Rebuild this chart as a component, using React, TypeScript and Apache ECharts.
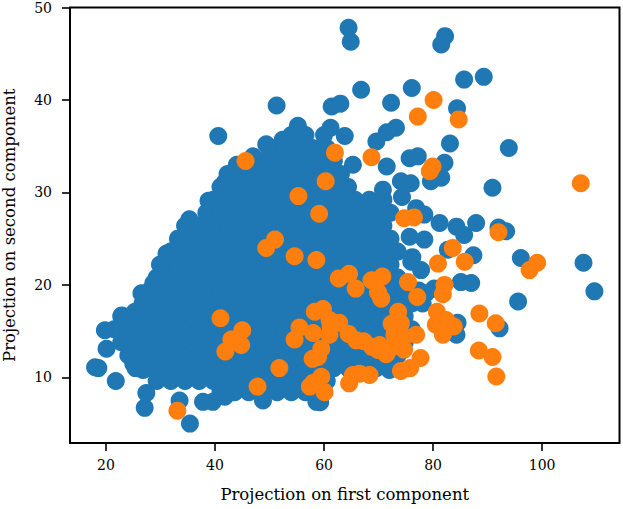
import React, { useEffect, useRef } from "react";
import * as echarts from "echarts";

// Axis ticks
const xTicks = [20, 40, 60, 80, 100];
const yTicks = [10, 20, 30, 40, 50];

// Blue: scattered / outline points [x, y]
const blueScatter: number[][] = [
  [64.5, 47.8], [64.9, 46.3], [82.2, 46.9], [81.5, 46.0], [85.7, 42.2], [89.3, 42.5],
  [66.8, 41.1], [76.1, 41.3], [72.3, 39.7], [84.4, 39.1], [61.4, 39.3], [63.0, 39.6],
  [51.3, 39.4], [40.6, 36.1], [55.2, 37.2], [83.1, 35.3], [93.9, 34.8], [61.2, 37.0],
  [60.0, 36.2], [63.8, 36.1], [69.6, 35.5], [71.5, 36.5], [73.2, 37.0], [75.7, 33.7],
  [77.2, 33.9], [71.5, 32.8], [82.1, 33.2], [81.5, 31.6], [79.6, 31.2], [75.9, 31.0],
  [90.9, 30.5], [65.3, 33.0], [70.8, 30.3], [74.3, 29.5], [76.9, 28.3], [78.4, 27.6],
  [81.2, 26.7], [84.3, 26.3], [85.7, 25.4], [87.9, 26.7], [92.0, 26.2], [93.4, 25.8],
  [78.4, 24.9], [75.7, 25.2], [96.1, 22.9], [107.6, 22.4], [109.6, 19.3], [95.6, 18.2],
  [87.4, 23.2], [85.1, 20.3], [87.0, 20.2], [82.7, 23.8], [76.0, 22.5], [77.8, 21.6],
  [80.2, 19.6], [78.7, 19.1], [78.1, 18.0], [92.2, 15.3], [84.5, 15.9], [84.3, 14.6],
  [72.0, 10.8], [59.3, 7.3], [49.4, 35.2], [52.4, 35.7], [53.9, 31.3], [44.0, 33.0],
  [47.0, 33.9], [41.8, 31.1], [38.8, 29.1], [35.3, 27.1], [32.0, 23.6],
  [18.0, 11.1], [18.6, 11.0], [21.8, 9.6], [27.1, 6.7], [27.4, 8.3], [33.5, 7.5],
  [35.4, 5.0], [37.8, 7.35], [39.6, 7.35], [41.8, 7.9], [45.8, 8.7], [48.8, 7.5],
  [51.5, 8.8], [56.1, 9.2], [58.6, 7.35], [19.8, 15.1], [20.1, 13.1], [22.9, 16.7],
  [26.5, 19.1], [28.7, 20.2], [29.9, 22.2], [31.1, 23.4], [25.3, 17.1], [25.0, 11.5],
  [26.8, 10.8], [74.1, 31.2], [76.2, 23.0],
];

// Blue: dense core of the cloud, read row by row [y, xs]
const blueCoreRows: [number, number[]][] = [
  [8.4, [41, 43.6, 46.2, 48.8, 51.4, 54, 56.6]],
  [9.6, [29.3, 31.9, 34.5, 37.1, 39.7, 42.3, 44.9, 47.5, 50.1, 52.7, 55.3, 57.9, 60.5]],
  [11.0, [25.4, 28, 30.6, 33.2, 35.8, 38.4, 41, 43.6, 46.2, 48.8, 51.4, 54, 56.6, 59.2, 61.8, 64.4, 67, 69.6, 72.2]],
  [12.4, [24.1, 26.7, 29.3, 31.9, 34.5, 37.1, 39.7, 42.3, 44.9, 47.5, 50.1, 52.7, 55.3, 57.9, 60.5, 63.1, 65.7, 68.3, 70.9, 73.5]],
  [13.8, [22.8, 25.4, 28, 30.6, 33.2, 35.8, 38.4, 41, 43.6, 46.2, 48.8, 51.4, 54, 56.6, 59.2, 61.8, 64.4, 67, 69.6, 72.2, 74.8]],
  [15.2, [21.5, 24.1, 26.7, 29.3, 31.9, 34.5, 37.1, 39.7, 42.3, 44.9, 47.5, 50.1, 52.7, 55.3, 57.9, 60.5, 63.1, 65.7, 68.3, 70.9, 73.5, 76.1]],
  [16.6, [22.8, 25.4, 28, 30.6, 33.2, 35.8, 38.4, 41, 43.6, 46.2, 48.8, 51.4, 54, 56.6, 59.2, 61.8, 64.4, 67, 69.6, 72.2, 74.8]],
  [18.0, [26.7, 29.3, 31.9, 34.5, 37.1, 39.7, 42.3, 44.9, 47.5, 50.1, 52.7, 55.3, 57.9, 60.5, 63.1, 65.7, 68.3, 70.9, 73.5, 76.1]],
  [19.4, [28, 30.6, 33.2, 35.8, 38.4, 41, 43.6, 46.2, 48.8, 51.4, 54, 56.6, 59.2, 61.8, 64.4, 67, 69.6, 72.2, 74.8, 77.4]],
  [20.8, [29.3, 31.9, 34.5, 37.1, 39.7, 42.3, 44.9, 47.5, 50.1, 52.7, 55.3, 57.9, 60.5, 63.1, 65.7, 68.3, 70.9, 73.5]],
  [22.2, [30.6, 33.2, 35.8, 38.4, 41, 43.6, 46.2, 48.8, 51.4, 54, 56.6, 59.2, 61.8, 64.4, 67, 69.6, 72.2]],
  [23.6, [31.9, 34.5, 37.1, 39.7, 42.3, 44.9, 47.5, 50.1, 52.7, 55.3, 57.9, 60.5, 63.1, 65.7, 68.3, 70.9, 73.5]],
  [25.0, [33.2, 35.8, 38.4, 41, 43.6, 46.2, 48.8, 51.4, 54, 56.6, 59.2, 61.8, 64.4, 67, 69.6, 72.2]],
  [26.4, [34.5, 37.1, 39.7, 42.3, 44.9, 47.5, 50.1, 52.7, 55.3, 57.9, 60.5, 63.1, 65.7, 68.3, 70.9]],
  [27.8, [38.4, 41, 43.6, 46.2, 48.8, 51.4, 54, 56.6, 59.2, 61.8, 64.4, 67, 69.6, 72.2]],
  [29.2, [39.7, 42.3, 44.9, 47.5, 50.1, 52.7, 55.3, 57.9, 60.5, 63.1, 65.7, 68.3, 70.9]],
  [30.6, [41, 43.6, 46.2, 48.8, 51.4, 54, 56.6, 59.2, 61.8, 64.4]],
  [32.0, [42.3, 44.9, 47.5, 50.1, 52.7, 55.3, 57.9, 60.5, 63.1]],
  [33.4, [46.2, 48.8, 51.4, 54, 56.6, 59.2, 61.8]],
  [34.8, [50.1, 52.7, 55.3, 57.9, 60.5]],
  [36.2, [54, 56.6]],
];

// Orange points [x, y]
const orangePoints: number[][] = [
  [33.1, 6.4], [41.0, 16.4], [45.0, 15.1], [43.0, 14.1], [44.8, 13.5], [41.9, 12.8],
  [47.8, 9.0], [51.8, 11.0], [45.6, 33.4], [55.3, 29.6], [59.1, 27.7], [51.0, 24.9],
  [49.4, 24.0], [54.6, 23.1], [58.6, 22.7], [62.0, 34.3], [60.3, 31.2], [68.7, 33.8],
  [77.2, 38.2], [80.1, 40.0], [84.7, 37.9], [79.9, 32.8], [79.4, 32.3], [74.7, 27.2],
  [76.5, 27.3], [83.6, 24.0], [80.9, 22.3], [85.8, 22.5], [92.0, 25.7], [99.1, 22.4],
  [97.7, 21.6], [107.1, 31.0], [75.4, 20.3], [77.1, 18.7], [82.1, 20.0], [81.8, 19.0],
  [88.5, 16.9], [91.5, 15.85], [88.4, 12.9], [90.9, 12.2], [91.6, 10.1], [80.7, 17.1],
  [80.5, 15.7], [82.4, 16.2], [83.8, 15.5], [81.8, 14.6], [73.6, 17.1], [72.4, 15.8],
  [74.1, 15.85], [72.9, 14.6], [74.7, 14.4], [76.9, 14.6], [71.4, 12.5], [72.6, 13.3],
  [74.7, 13.0], [77.7, 12.1], [74.1, 10.7], [75.8, 11.0], [70.5, 18.5], [69.9, 19.2],
  [68.7, 20.5], [70.7, 20.9], [62.7, 20.7], [64.6, 21.2], [65.8, 19.6], [58.3, 17.1],
  [59.8, 17.4], [61.0, 16.2], [62.8, 15.9], [61.2, 15.5], [55.5, 15.4], [54.6, 14.1],
  [58.0, 14.8], [59.5, 13.1], [58.9, 12.2], [61.0, 14.6], [64.5, 14.7], [65.9, 14.0],
  [67.3, 13.9], [68.8, 13.3], [69.9, 12.96], [58.0, 9.4], [59.5, 10.07], [60.1, 8.4],
  [57.4, 9.0], [64.6, 9.35], [66.5, 10.4], [68.35, 10.25], [65.3, 10.25], [57.9, 12.0],
  [70.2, 13.5],
];

const xName = "Projection on first component";
const yName = "Projection on second component";

export default function App() {
  const ref = useRef<HTMLDivElement>(null);
  useEffect(() => {
    if (!ref.current) return;
    const chart = echarts.init(ref.current, null, { renderer: "svg" });
    const blueCore: number[][] = [];
    blueCoreRows.forEach(([y, xs]) => xs.forEach((x) => blueCore.push([x, y])));
    const blueData = [...blueCore, ...blueScatter];
    const font = "DejaVu Serif";
    chart.setOption({
      animation: false,
      grid: {
        left: 70, right: 3.5, top: 7.5, bottom: 66,
        containLabel: false, outerBoundsMode: "none",
        show: true, borderColor: "#000", borderWidth: 2, backgroundColor: "transparent",
      },
      xAxis: {
        type: "value", min: 13.4, max: 114.2,
        splitLine: { show: false },
        axisLine: { show: false },
        axisTick: { show: true, length: 8, lineStyle: { color: "#000", width: 1.6 }, customValues: xTicks },
        axisLabel: { customValues: xTicks, margin: 15, fontFamily: font, fontSize: 14, color: "#000" },
        name: xName, nameLocation: "middle", nameGap: 43,
        nameTextStyle: { fontFamily: font, fontSize: 16.5, color: "#000" },
      },
      yAxis: {
        type: "value", min: 2.9, max: 50,
        splitLine: { show: false },
        axisLine: { show: false },
        axisTick: { show: true, length: 8, lineStyle: { color: "#000", width: 1.6 }, customValues: yTicks },
        axisLabel: { customValues: yTicks, margin: 18, fontFamily: font, fontSize: 14, color: "#000" },
        name: yName, nameLocation: "middle", nameGap: 52, nameRotate: 90,
        nameTextStyle: { fontFamily: font, fontSize: 16.5, color: "#000" },
      },
      series: [
        {
          type: "scatter", data: blueData, symbolSize: 18,
          itemStyle: { color: "#1f77b4", opacity: 1 },
        },
        {
          type: "scatter", data: orangePoints, symbolSize: 18,
          itemStyle: { color: "#ff7f0e", opacity: 1 },
        },
      ],
    });
    return () => chart.dispose();
  }, []);
  return (
    <div
      ref={ref}
      style={{ position: "fixed", left: 0, top: 0, width: 623, height: 509, background: "#fff" }}
    />
  );
}
